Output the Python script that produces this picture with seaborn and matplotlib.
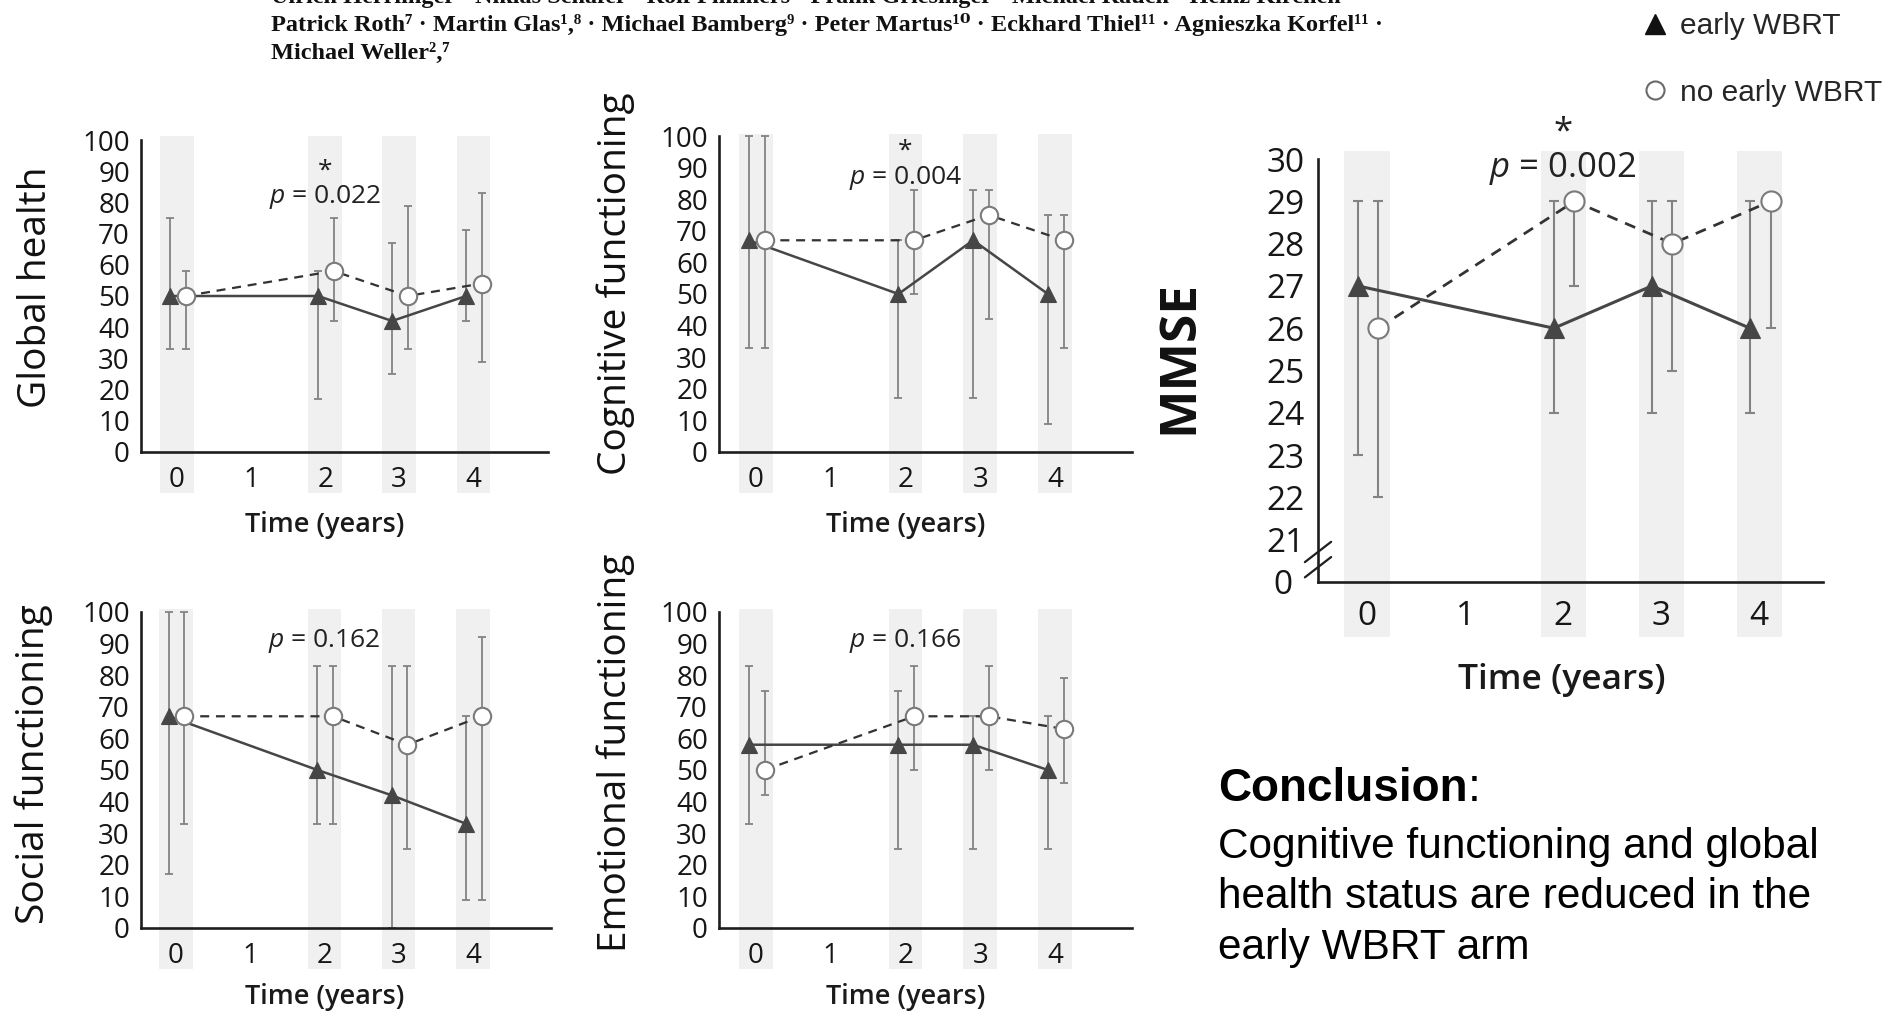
import numpy as np
import matplotlib
matplotlib.use("Agg")
import matplotlib.pyplot as plt
import matplotlib.transforms as mtransforms
from matplotlib.lines import Line2D
from matplotlib.text import Annotation
import seaborn as sns

# ---------------- data ----------------
time_points = [0, 2, 3, 4]
x_ticks = [0, 1, 2, 3, 4]
x_tick_labels = ["0", "1", "2", "3", "4"]
arm_labels = ["early WBRT", "no early WBRT"]

global_early = [50, 50, 42, 50]
global_early_lo = [33, 17, 25, 42]
global_early_hi = [75, 58, 67, 71]
global_no = [50, 58, 50, 54]
global_no_lo = [33, 42, 33, 29]
global_no_hi = [58, 75, 79, 83]

cog_early = [67, 50, 67, 50]
cog_early_lo = [33, 17, 17, 9]
cog_early_hi = [100, 67, 83, 75]
cog_no = [67, 67, 75, 67]
cog_no_lo = [33, 50, 42, 33]
cog_no_hi = [100, 83, 83, 75]

social_early = [67, 50, 42, 33]
social_early_lo = [17, 33, 0, 9]
social_early_hi = [100, 83, 83, 67]
social_no = [67, 67, 58, 67]
social_no_lo = [33, 33, 25, 9]
social_no_hi = [100, 83, 83, 92]

emo_early = [58, 58, 58, 50]
emo_early_lo = [33, 25, 25, 25]
emo_early_hi = [83, 75, 67, 67]
emo_no = [50, 67, 67, 63]
emo_no_lo = [42, 50, 50, 46]
emo_no_hi = [75, 83, 83, 79]

mmse_early = [27, 26, 27, 26]
mmse_early_lo = [23, 24, 24, 24]
mmse_early_hi = [29, 29, 29, 29]
mmse_no = [26, 29, 28, 29]
mmse_no_lo = [22, 27, 25, 26]
mmse_no_hi = [29, 29, 29, 29]

qol_yticks = list(range(0, 101, 10))
qol_yticklabels = [str(v) for v in qol_yticks]
mmse_yticks = list(range(20, 31))
mmse_yticklabels = ["0"] + [str(v) for v in range(21, 31)]

p_values = ["0.022", "0.004", "0.162", "0.166", "0.002"]
significant = [True, True, False, False, True]

# ---------------- style ----------------
sns.set_style("white")
SANS = "Open Sans"
plt.rcParams["font.family"] = [SANS, "DejaVu Sans"]
plt.rcParams["mathtext.fontset"] = "custom"
plt.rcParams["mathtext.it"] = "Open Sans:italic"
plt.rcParams["mathtext.rm"] = "Open Sans"

W, H = 1887, 1023
fig = plt.figure(figsize=(W / 100, H / 100), dpi=100)
fig.patch.set_facecolor("white")

C_AXIS = "#1e1e1e"
C_TICK = "#161616"
C_EARLY = "#464646"
C_NO_LINE = "#333333"
C_CIRC = "#7a7a7a"
C_ERR = "#838383"
C_BAND = "#f0f0f0"

OFF_E, OFF_N = -0.095, 0.115


def rect_px(l, t, r, b):
    return [l / W, 1 - b / H, (r - l) / W, (b - t) / H]


def draw_panel(spec):
    ax = fig.add_axes(rect_px(*spec["rect"]))
    ax.set_facecolor("none")
    ax.set_xlim(*spec["xlim"])
    ax.set_ylim(*spec["ylim"])

    # shaded time bands
    for t in time_points:
        ax.axvspan(t - spec["bw"] / 2, t + spec["bw"] / 2,
                   ymin=spec["band"][0], ymax=spec["band"][1],
                   color=C_BAND, lw=0, zorder=0, clip_on=False)

    e, elo, ehi, n, nlo, nhi = [np.array(v, dtype=float) for v in spec["data"]]
    xe = np.array(time_points) + OFF_E
    xn = np.array(time_points) + OFF_N

    for xs, ys, lo, hi in ((xe, e, elo, ehi), (xn, n, nlo, nhi)):
        cont = ax.errorbar(xs, ys, yerr=[ys - lo, hi - ys], fmt="none",
                           ecolor=C_ERR, elinewidth=spec["elw"],
                           capsize=spec["cap"], capthick=spec["elw"], zorder=2)
        for art in cont.get_children():
            art.set_clip_on(False)

    sns.lineplot(x=xe, y=e, ax=ax, color=C_EARLY, linewidth=spec["lw"],
                 marker="^", markersize=spec["ms_t"], markerfacecolor=C_EARLY,
                 markeredgecolor=C_EARLY, markeredgewidth=0.8,
                 errorbar=None, legend=False, zorder=4, clip_on=False)
    sns.lineplot(x=xn, y=n, ax=ax, color=C_NO_LINE, linewidth=spec["lw"] * 0.9,
                 linestyle=(0, (4, 3)), marker="o", markersize=spec["ms_c"],
                 markerfacecolor="white", markeredgecolor=C_CIRC,
                 markeredgewidth=1.5, errorbar=None, legend=False,
                 zorder=5, clip_on=False)

    # axes styling
    for s in ("top", "right"):
        ax.spines[s].set_visible(False)
    for s in ("left", "bottom"):
        ax.spines[s].set_color(C_AXIS)
        ax.spines[s].set_linewidth(1.9)
        ax.spines[s].set_zorder(3)
    ax.set_xticks(x_ticks)
    ax.set_xticklabels(x_tick_labels)
    ax.set_yticks(spec["yticks"])
    ax.set_yticklabels(spec["yticklabels"])
    ax.tick_params(axis="x", length=0, pad=spec["xpad"], labelsize=spec["ts"],
                   labelcolor=C_TICK)
    ax.tick_params(axis="y", direction="out", length=3.5, width=1.2,
                   color=C_AXIS, pad=spec["ypad"], labelsize=spec["ts"],
                   labelcolor=C_TICK)
    ax.grid(False)

    ax.set_ylabel(spec["ylabel"], fontsize=spec["yls"], fontweight=spec["ylw"],
                  color="#111111", va="center", ha="center")
    ax.yaxis.set_label_coords(spec["ylab"][0] / W, 1 - spec["ylab"][1] / H,
                              transform=fig.transFigure)
    ax.set_xlabel("Time (years)", fontsize=spec["xls"], fontweight="semibold",
                  color="#1a1a1a", va="center", ha="center")
    ax.xaxis.set_label_coords(spec["xlab"][0] / W, 1 - spec["xlab"][1] / H,
                              transform=fig.transFigure)

    # p-value annotation (significance star stacked above as one text block)
    if spec["sig"]:
        ax.text(2, spec["p_y"], "*\n$p$ = " + spec["p"], ha="center",
                va="center", multialignment="center", linespacing=spec["ls"],
                fontsize=spec["ps"], color="#222222", clip_on=False)
    else:
        ax.text(2, spec["p_y"], "$p$ = " + spec["p"], ha="center", va="center",
                fontsize=spec["ps"], color="#222222", clip_on=False)
    return ax


qol_common = dict(yticks=qol_yticks, yticklabels=qol_yticklabels, ylim=(0, 100),
                  bw=0.45, ms_t=12, ms_c=12.5, lw=1.8, elw=1.3, cap=3.0, ts=20,
                  yls=28, ylw="normal", xls=19.5, ps=19, ls=1.0,
                  xpad=10, ypad=4.5)

specs = [
    dict(qol_common, rect=(141, 140, 548, 452), xlim=(-0.486, 5.01),
         band=(-0.13, 1.013),
         data=(global_early, global_early_lo, global_early_hi,
               global_no, global_no_lo, global_no_hi),
         ylabel="Global health", ylab=(36, 287), xlab=(325, 525),
         p=p_values[0], sig=significant[0], p_y=85.6),
    dict(qol_common, rect=(719, 136, 1132, 452), xlim=(-0.495, 5.03),
         band=(-0.13, 1.006),
         data=(cog_early, cog_early_lo, cog_early_hi,
               cog_no, cog_no_lo, cog_no_hi),
         ylabel="Cognitive functioning", ylab=(616, 284), xlab=(906, 525),
         p=p_values[1], sig=significant[1], p_y=90.8),
    dict(qol_common, rect=(141, 612, 551, 928), xlim=(-0.47, 5.05),
         band=(-0.13, 1.01),
         data=(social_early, social_early_lo, social_early_hi,
               social_no, social_no_lo, social_no_hi),
         ylabel="Social functioning", ylab=(34, 764), xlab=(325, 997),
         p=p_values[2], sig=significant[2], p_y=90.8),
    dict(qol_common, rect=(719, 612, 1132, 928), xlim=(-0.495, 5.03),
         band=(-0.13, 1.01),
         data=(emo_early, emo_early_lo, emo_early_hi,
               emo_no, emo_no_lo, emo_no_hi),
         ylabel="Emotional functioning", ylab=(616, 753), xlab=(906, 997),
         p=p_values[3], sig=significant[3], p_y=90.8),
    dict(rect=(1318, 159, 1823, 582), xlim=(-0.5, 4.65), ylim=(20, 30),
         band=(-0.13, 1.02), bw=0.46, ms_t=14, ms_c=14.5, lw=2.2, elw=1.5,
         cap=3.5,
         yticks=mmse_yticks, yticklabels=mmse_yticklabels, ts=24,
         data=(mmse_early, mmse_early_lo, mmse_early_hi,
               mmse_no, mmse_no_lo, mmse_no_hi),
         ylabel="MMSE", yls=37, ylw="bold", ylab=(1179, 357),
         xls=25.5, xlab=(1562, 680), xpad=13, ypad=6,
         p=p_values[4], sig=significant[4], p_y=30.18, ps=25, ls=1.0),
]

axes = [draw_panel(s) for s in specs]

# axis break marks on the MMSE y axis
ax_m = axes[-1]
blend = mtransforms.blended_transform_factory(ax_m.transAxes, ax_m.transData)
for yc in (20.35, 20.71):
    ax_m.plot([-0.026, 0.026], [yc - 0.24, yc + 0.24], transform=blend,
              color=C_AXIS, lw=1.6, clip_on=False, zorder=6)
# the "0" below the break sits further left, under the other labels
zero_lab = ax_m.get_yticklabels()[0]
zero_lab.set_transform(zero_lab.get_transform() +
                       mtransforms.ScaledTranslation(-12 / 100, 0,
                                                     fig.dpi_scale_trans))

# ---------------- legend ----------------
handles = [
    Line2D([], [], marker="^", ls="none", color="#111111", markersize=15),
    Line2D([], [], marker="o", ls="none", markerfacecolor="white",
           markeredgecolor="#6a6a6a", markeredgewidth=1.5, markersize=13),
]
fig.legend(handles, arm_labels, loc="upper left",
           bbox_to_anchor=(1643 / W, 1 - 12 / H), frameon=False,
           prop={"family": ["Liberation Sans"], "size": 21.5},
           handlelength=0.8, handletextpad=0.45, labelspacing=1.3,
           borderpad=0, borderaxespad=0)

# ---------------- header (author list) ----------------
SERIF = ["Liberation Serif", "DejaVu Serif"]
HS = 17.5
fig.text(271 / W, 1 - 3 / H,
         "Ulrich Herrlinger · Niklas Schäfer · Rolf Fimmers · Frank Griesinger · "
         "Michael Rauch · Heinz Kirchen ·",
         family=SERIF, weight="bold", fontsize=HS, ha="left", va="baseline",
         color="#111111")
fig.text(271 / W, 1 - 24 / H,
         "Patrick Roth⁷ · Martin Glas¹,⁸ · Michael Bamberg⁹ · Peter Martus¹⁰ · "
         "Eckhard Thiel¹¹ · Agnieszka Korfel¹¹ ·",
         family=SERIF, weight="bold", fontsize=HS, ha="left", va="center",
         color="#111111")
fig.text(271 / W, 1 - 53 / H, "Michael Weller²,⁷",
         family=SERIF, weight="bold", fontsize=HS, ha="left", va="center",
         color="#111111")

# ---------------- conclusion ----------------
ARIAL = ["Liberation Sans", "DejaVu Sans"]
t_concl = fig.text(1218 / W, 1 - 789 / H, "Conclusion", family=ARIAL,
                   weight="bold", fontsize=33, ha="left", va="center",
                   color="#000000")
fig.add_artist(Annotation(":", xy=(1, 0), xycoords=t_concl, ha="left",
                          va="bottom", family=ARIAL, fontsize=33,
                          color="#000000"))
for txt, yc in (("Cognitive functioning and global", 847),
                ("health status are reduced in the", 897),
                ("early WBRT arm", 948)):
    fig.text(1218 / W, 1 - yc / H, txt, family=ARIAL, fontsize=30.5,
             ha="left", va="center", color="#000000")

fig.savefig("out.png", dpi=100, facecolor="white")
